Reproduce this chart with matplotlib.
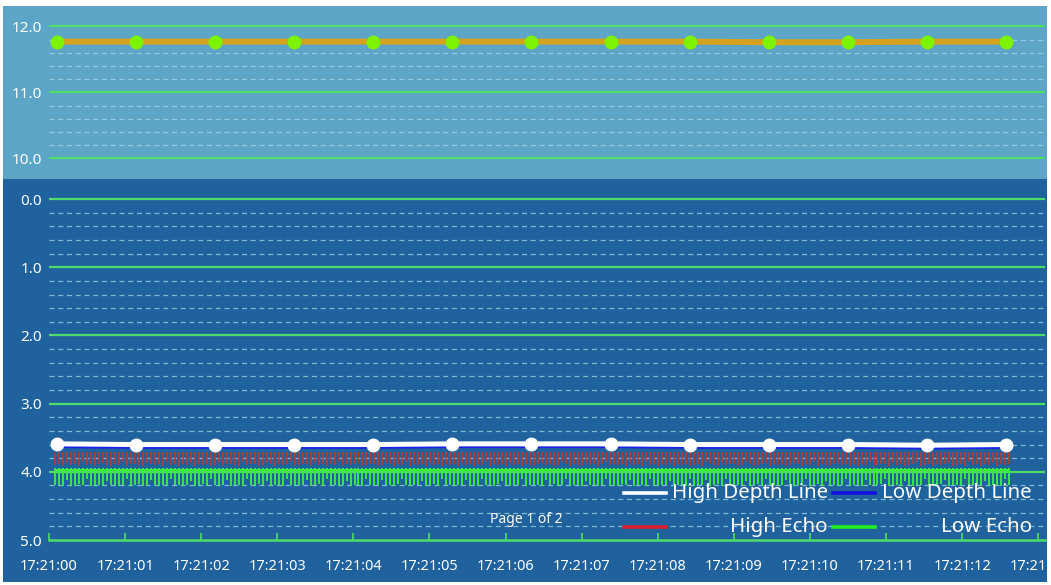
import matplotlib
matplotlib.use('Agg')
import matplotlib.pyplot as plt
import numpy as np
from matplotlib.patches import Rectangle
from matplotlib.lines import Line2D

plt.rcParams['font.family'] = ['Noto Sans', 'DejaVu Sans']

# data (seconds after 17:21:00)
tick_labels = ['17:21:%02d' % s for s in range(14)]
point_times = [0.10, 1.14, 2.18, 3.22, 4.26, 5.30, 6.34, 7.38, 8.42, 9.46, 10.50, 11.54, 12.58]
top_values = [11.77, 11.77, 11.77, 11.77, 11.77, 11.77, 11.77, 11.77, 11.77, 11.76, 11.76, 11.77, 11.77]
high_depth = [3.59, 3.60, 3.60, 3.60, 3.60, 3.59, 3.59, 3.59, 3.60, 3.60, 3.60, 3.61, 3.60]
low_depth = [3.62, 3.63, 3.63, 3.63, 3.63, 3.62, 3.62, 3.62, 3.63, 3.63, 3.63, 3.64, 3.63]

# echo strokes: common top level and per-sample bottom
echo_start, echo_end = 0.08, 12.62
high_echo_top = 3.71
high_echo_bottom = [
    3.90, 3.88, 3.91, 3.87, 3.90, 3.89, 3.91, 3.86, 3.90, 3.88, 3.91, 3.89, 3.87, 3.90, 3.91, 3.88, 3.90, 3.86, 3.91, 3.89,
    3.88, 3.90, 3.91, 3.87, 3.89, 3.90, 3.88, 3.91, 3.86, 3.90, 3.89, 3.91, 3.88, 3.90, 3.87, 3.91, 3.89, 3.90, 3.88, 3.91,
    3.90, 3.87, 3.91, 3.89, 3.88, 3.90, 3.91, 3.86, 3.90, 3.89, 3.88, 3.91, 3.90, 3.87, 3.89, 3.91, 3.88, 3.90, 3.89, 3.86,
    3.91, 3.90, 3.88, 3.89, 3.91, 3.87, 3.90, 3.88, 3.91, 3.89, 3.90, 3.86, 3.91, 3.88, 3.90, 3.89, 3.87, 3.91, 3.90, 3.88,
    3.89, 3.91, 3.90, 3.87, 3.88, 3.91, 3.89, 3.90, 3.86, 3.91, 3.88, 3.90, 3.89, 3.91, 3.87, 3.90, 3.88, 3.91, 3.89, 3.90,
    3.88, 3.91, 3.87, 3.90, 3.89, 3.91, 3.88, 3.90, 3.86, 3.91, 3.89, 3.90, 3.88, 3.91, 3.87, 3.90, 3.89, 3.91, 3.88, 3.90,
    3.91, 3.89, 3.87, 3.90, 3.88, 3.91, 3.90, 3.86, 3.89, 3.91, 3.88, 3.90, 3.91, 3.87, 3.90, 3.89, 3.91, 3.88, 3.86, 3.90,
    3.89, 3.90, 3.88, 3.91, 3.87, 3.90, 3.89, 3.91, 3.86, 3.90, 3.88, 3.91, 3.89, 3.90, 3.87, 3.91, 3.88, 3.90, 3.89, 3.91,
    3.90, 3.88, 3.91, 3.86, 3.89, 3.90, 3.91, 3.87, 3.90, 3.88, 3.89, 3.91, 3.90, 3.86, 3.88, 3.91, 3.90, 3.89, 3.87, 3.91,
    3.88, 3.90, 3.89, 3.91, 3.90, 3.87, 3.88, 3.91, 3.89, 3.90, 3.86, 3.91, 3.88, 3.90, 3.91, 3.89, 3.87, 3.90, 3.88, 3.91,
    3.89, 3.91, 3.88, 3.90, 3.86, 3.91, 3.90, 3.88, 3.89, 3.91, 3.87, 3.90, 3.88, 3.91, 3.90, 3.89, 3.86, 3.91, 3.90, 3.88,
    3.91, 3.88, 3.90, 3.89, 3.87, 3.91, 3.90, 3.88, 3.91, 3.86, 3.90, 3.89, 3.91, 3.88, 3.90, 3.87, 3.91, 3.89, 3.90, 3.88,
]
low_echo_top = 3.94
low_echo_bottom = [
    4.20, 4.19, 4.21, 4.12, 4.20, 4.21, 4.18, 4.20, 4.11, 4.21, 4.19, 4.20, 4.21, 4.13, 4.20, 4.19, 4.21, 4.20, 4.10, 4.21,
    4.20, 4.18, 4.21, 4.20, 4.12, 4.19, 4.21, 4.20, 4.21, 4.11, 4.20, 4.19, 4.21, 4.20, 4.13, 4.21, 4.20, 4.18, 4.21, 4.10,
    4.19, 4.21, 4.20, 4.12, 4.21, 4.20, 4.19, 4.21, 4.11, 4.20, 4.21, 4.18, 4.20, 4.13, 4.21, 4.19, 4.20, 4.21, 4.10, 4.20,
    4.21, 4.19, 4.20, 4.12, 4.21, 4.20, 4.18, 4.21, 4.11, 4.20, 4.19, 4.21, 4.20, 4.13, 4.21, 4.20, 4.19, 4.21, 4.10, 4.20,
    4.20, 4.21, 4.12, 4.19, 4.20, 4.21, 4.18, 4.11, 4.20, 4.21, 4.19, 4.20, 4.13, 4.21, 4.20, 4.18, 4.21, 4.10, 4.20, 4.19,
    4.21, 4.20, 4.19, 4.12, 4.21, 4.20, 4.21, 4.11, 4.19, 4.20, 4.21, 4.18, 4.13, 4.20, 4.21, 4.19, 4.20, 4.10, 4.21, 4.20,
    4.19, 4.20, 4.21, 4.12, 4.20, 4.18, 4.21, 4.20, 4.11, 4.21, 4.19, 4.20, 4.21, 4.13, 4.19, 4.20, 4.21, 4.20, 4.10, 4.21,
    4.20, 4.21, 4.18, 4.20, 4.12, 4.21, 4.19, 4.20, 4.21, 4.11, 4.20, 4.21, 4.19, 4.20, 4.13, 4.21, 4.20, 4.19, 4.21, 4.10,
    4.21, 4.20, 4.19, 4.12, 4.21, 4.20, 4.18, 4.21, 4.11, 4.20, 4.21, 4.19, 4.20, 4.13, 4.21, 4.20, 4.18, 4.21, 4.10, 4.20,
    4.19, 4.21, 4.20, 4.12, 4.20, 4.21, 4.19, 4.20, 4.11, 4.21, 4.20, 4.18, 4.21, 4.13, 4.20, 4.19, 4.21, 4.20, 4.10, 4.21,
    4.20, 4.19, 4.21, 4.12, 4.20, 4.21, 4.20, 4.18, 4.11, 4.21, 4.20, 4.19, 4.21, 4.13, 4.20, 4.21, 4.19, 4.20, 4.10, 4.21,
    4.21, 4.20, 4.18, 4.12, 4.21, 4.19, 4.20, 4.21, 4.11, 4.20, 4.19, 4.21, 4.20, 4.13, 4.21, 4.20, 4.19, 4.21, 4.10, 4.20,
]

LIGHT = '#5ca5c7'
DARK = '#1f629e'
GRID_GREEN = '#4fdc6a'
DASH = '#a6d6e6'

W, H = 1051, 585
fig = plt.figure(figsize=(W / 100, H / 100), dpi=100, facecolor='white')
# phone-screen panels
fig.patches.append(Rectangle((3 / W, 1 - 179 / H), 1044 / W, 173 / H, transform=fig.transFigure,
                             facecolor=LIGHT, edgecolor='none', zorder=-10))
fig.patches.append(Rectangle((3 / W, 1 - 582 / H), 1044 / W, 403 / H, transform=fig.transFigure,
                             facecolor=DARK, edgecolor='none', zorder=-10))

ax1 = fig.add_axes([49 / W, 1 - 179 / H, 996 / W, 173 / H])
ax2 = fig.add_axes([49 / W, 1 - 540 / H, 996 / W, 361 / H])

for ax in (ax1, ax2):
    ax.set_facecolor('none')
    for s in ax.spines.values():
        s.set_visible(False)
    ax.set_xlim(0, 13.09)
    ax.set_xticks(range(14))
    ax.tick_params(axis='y', length=0, labelcolor='white', labelsize=11, pad=5)

def grid(ax, lo, hi):
    for v in np.arange(lo, hi + 0.01, 0.2):
        if abs(v - round(v)) < 0.01:
            ax.axhline(v, color=GRID_GREEN, lw=1.6, zorder=1)
        else:
            ax.axhline(v, color=DASH, lw=0.9, ls=(0, (4, 3)), alpha=0.75, zorder=1)

# top panel
ax1.set_ylim(9.686, 12.31)
ax1.set_yticks([10, 11, 12])
ax1.set_yticklabels(['10.0', '11.0', '12.0'])
ax1.tick_params(axis='x', length=0, labelbottom=False)
grid(ax1, 10.0, 12.0)
ax1.plot(point_times, top_values, color='#d4a21c', lw=4.3, zorder=3)
ax1.plot(point_times, top_values, 'o', color='#7cf400', ms=9, zorder=4)

# bottom panel
ax2.set_ylim(5.0, -0.294)
ax2.set_yticks([0, 1, 2, 3, 4, 5])
ax2.set_yticklabels(['0.0', '1.0', '2.0', '3.0', '4.0', '5.0'])
grid(ax2, 0.0, 4.8)
ax2.spines['bottom'].set_visible(True)
ax2.spines['bottom'].set_color(GRID_GREEN)
ax2.spines['bottom'].set_linewidth(1.8)
ax2.set_xticklabels(tick_labels)
ax2.tick_params(axis='x', direction='in', length=5, width=1.2, color=GRID_GREEN,
                labelcolor='white', labelsize=10.5, pad=14)

# echoes as dense vertical strokes
t = np.linspace(echo_start, echo_end, len(low_echo_bottom))
ax2.vlines(t, low_echo_top, low_echo_bottom, color='#3cf03c', lw=1.3, zorder=2)
ax2.hlines(low_echo_top + 0.03, echo_start, echo_end, color='#3cf03c', lw=1.5, zorder=2)
ax2.vlines(t, high_echo_top, high_echo_bottom, color='#b53a30', lw=1.4, alpha=0.9, zorder=2)

ax2.plot(point_times, low_depth, color='#1a22e8', lw=3.2, zorder=3)
ax2.plot(point_times, high_depth, color='white', lw=3.6, zorder=4)
ax2.plot(point_times, high_depth, 'o', color='white', ms=9, zorder=5)

# legend (two columns, right-aligned labels)
tr = ax2.transAxes
legend = [('High Depth Line', 'white', 0.577, 0.782, 0.130),
          ('Low Depth Line', '#1010e0', 0.787, 0.987, 0.130),
          ('High Echo', '#d8202c', 0.577, 0.782, 0.036),
          ('Low Echo', '#20ee20', 0.787, 0.987, 0.036)]
for label, col, hx, tx, ty in legend:
    ax2.add_line(Line2D([hx, hx + 0.042], [ty, ty], transform=tr, color=col, lw=2.6, zorder=6))
    ax2.text(tx, ty, label, transform=tr, ha='right', va='center', color='white', fontsize=14.8, zorder=6)

ax2.text(0.479, 0.058, 'Page 1 of 2', transform=tr, ha='center', va='center', color='white', fontsize=10)

fig.savefig('out.png', dpi=100, facecolor='white')
